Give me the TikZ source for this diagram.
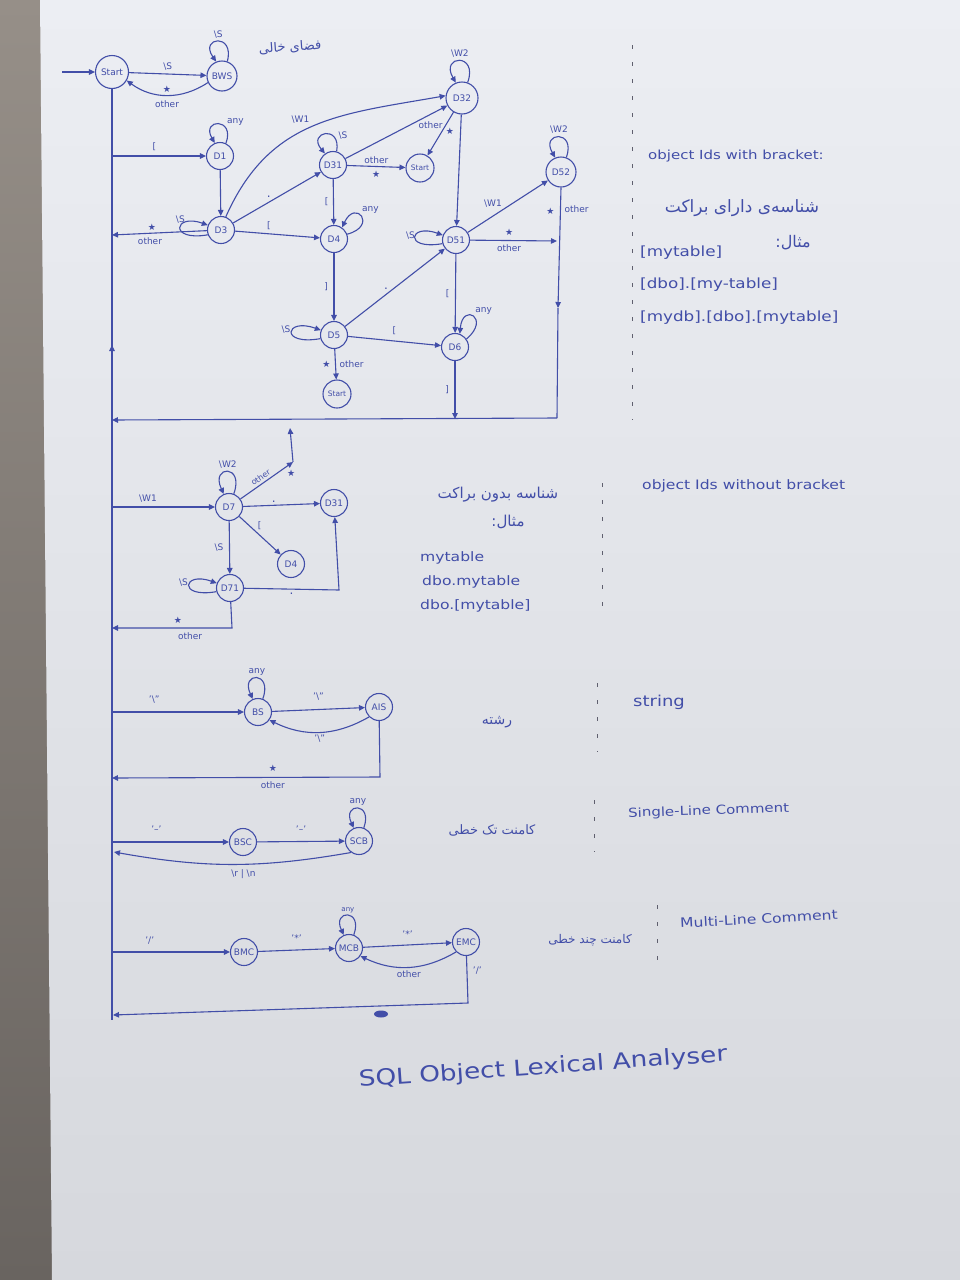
\documentclass[tikz,border=0pt]{standalone}
\usepackage{fontspec}
\setmainfont{DejaVu Sans}
\newfontfamily\fa[Script=Arabic]{DejaVu Sans}
\newfontfamily\hand[FakeStretch=1.2]{DejaVu Sans}
\TeXXeTstate=1
\usetikzlibrary{arrows.meta}
\definecolor{ink}{RGB}{66,78,168}
\definecolor{paperA}{RGB}{236,238,243}
\definecolor{paperB}{RGB}{214,216,221}
\definecolor{wallA}{RGB}{150,143,136}
\definecolor{wallB}{RGB}{105,100,96}
\definecolor{dashc}{RGB}{95,95,110}
\begin{document}
\begin{tikzpicture}[x=1pt,y=1pt,
 st/.style={circle,draw=ink,line width=1.1pt,minimum size=27pt,inner sep=0pt,text=ink,font=\fontsize{9}{10}\selectfont},
 lb/.style={text=ink,inner sep=1.5pt,font=\fontsize{9}{10}\selectfont},
 ar/.style={draw=ink,line width=1.1pt,-{Triangle[length=6pt,width=5.5pt]}},
 ln/.style={draw=ink,line width=1.1pt},
 hw/.style={text=ink,inner sep=0pt,font=\hand\fontsize{12.5}{14}\selectfont,anchor=west},
 ex/.style={text=ink,inner sep=0pt,font=\hand\fontsize{14}{16}\selectfont,anchor=west},
 fatext/.style={text=ink,inner sep=0pt,font=\fa\fontsize{14}{16}\selectfont},
 dv/.style={draw=dashc,line width=0.9pt,dash pattern=on 4pt off 13pt},
]
\useasboundingbox (0,-1280) rectangle (960,0);
% background
\shade[top color=wallA,bottom color=wallB] (0,-1280) rectangle (960,0);
\shade[top color=paperA,bottom color=paperB] (40,0) -- (960,0) -- (960,-1280) -- (52,-1280) -- cycle;

% ---------- states ----------
\node[st,minimum size=33pt] (start) at (112,-72) {Start};
\node[st,minimum size=30pt] (bws) at (222,-76) {BWS};
\node[st] (d1) at (220,-156) {D1};
\node[st] (d3) at (221,-230) {D3};
\node[st] (d31) at (333,-165) {D31};
\node[st,minimum size=32pt] (d32) at (462,-98) {D32};
\node[st,minimum size=28pt,font=\fontsize{7.5}{8}\selectfont] (s2) at (420,-168) {Start};
\node[st] (d4) at (334,-239) {D4};
\node[st] (d51) at (456,-240) {D51};
\node[st,minimum size=30pt] (d52) at (561,-172) {D52};
\node[st] (d5) at (334,-335) {D5};
\node[st] (d6) at (455,-347) {D6};
\node[st,minimum size=28pt,font=\fontsize{7.5}{8}\selectfont] (s3) at (337,-394) {Start};
\node[st] (d7) at (229,-507) {D7};
\node[st] (d31b) at (334,-503) {D31};
\node[st] (d4b) at (291,-564) {D4};
\node[st] (d71) at (230,-588) {D71};
\node[st] (bs) at (258,-712) {BS};
\node[st] (ais) at (379,-707) {AIS};
\node[st] (bsc) at (243,-842) {BSC};
\node[st] (scb) at (359,-841) {SCB};
\node[st] (bmc) at (244,-952) {BMC};
\node[st] (mcb) at (349,-948) {MCB};
\node[st] (emc) at (466,-942) {EMC};

% ---------- helper coordinates ----------
\coordinate (in) at (62,-72);
\coordinate (lend) at (112,-1020);
\coordinate (c3) at (112,-235);
\coordinate (c51) at (557,-241);
\coordinate (m52) at (558,-308);
\coordinate (c52) at (557,-418);
\coordinate (c6) at (455,-419);
\coordinate (cL) at (112,-420);
\coordinate (u0) at (112,-365);
\coordinate (u1) at (112,-345);
\coordinate (o7) at (293,-462);
\coordinate (o7u) at (290,-428);
\coordinate (c71) at (339,-590);
\coordinate (c71b) at (232,-628);
\coordinate (c71c) at (112,-628);
\coordinate (a1) at (380,-777);
\coordinate (a2) at (112,-778);
\coordinate (r1) at (114,-852);
\coordinate (e1) at (468,-1003);
\coordinate (e2) at (113,-1015);

% ---------- main spine ----------
\draw[ar] (in) -- (start);
\draw[ln] (start.south) -- (lend);
\draw[ar] (u0) -- (u1);

% ---------- whitespace ----------
\draw[ar] (start) -- node[lb,above=2pt]{\textbackslash S} (bws);
\draw[ar] (bws.205) to[bend left=35] node[lb,above=1pt]{★} node[lb,below=3pt]{other} (start.-30);
\draw[ar] (bws.70) .. controls +(75:30) and +(125:30) .. node[lb,above=1pt]{\textbackslash S} (bws.112);

% ---------- object ids with bracket ----------
\draw[ar] (start |- d1) -- node[lb,above=3pt,pos=0.45]{[} (d1);
\draw[ar] (d1.65) .. controls +(70:28) and +(120:28) .. node[lb,above right,pos=0.3]{any} (d1.112);
\draw[ar] (d1) -- (d3);
\draw[ar] (d3.200) .. controls +(190:40) and +(160:36) .. node[lb,above=3pt,pos=0.5]{\textbackslash S} (d3.160);
\draw[ar] (d3) -- node[lb,above=1pt,pos=0.58]{★} node[lb,below=2pt,pos=0.6]{other} (c3);
\draw[ar] (d3) -- node[lb,above=2pt,pos=0.4]{[} (d4);
\draw[ar] (d3) -- node[lb,above left,pos=0.45,font=\fontsize{12}{12}\selectfont]{.} (d31);
\draw[ar] (d3.70) to[out=66,in=190,looseness=1.1] node[lb,above left=1pt,pos=0.5]{\textbackslash W1} (d32.172);
\draw[ar] (d31.75) .. controls +(80:28) and +(130:28) .. node[lb,above right,pos=0.15]{\textbackslash S} (d31.125);
\draw[ar] (d31) -- (d32);
\draw[ar] (d31) -- node[lb,above=1pt]{other} node[lb,below=2pt]{★} (s2);
\draw[ar] (d31) -- node[lb,left=3pt]{[} (d4);
\draw[ar] (d4.20) .. controls +(15:32) and +(65:32) .. node[lb,above right,pos=0.55]{any} (d4.55);
\draw[ar] (d4) -- node[lb,left=4pt]{]} (d5);
\draw[ar] (d5.195) .. controls +(190:42) and +(160:38) .. node[lb,above left,pos=0.4]{\textbackslash S} (d5.160);
\draw[ar] (d5) -- node[lb,above left,pos=0.45,font=\fontsize{12}{12}\selectfont]{.} (d51);
\draw[ar] (d5) -- node[lb,above=4pt]{[} (d6);
\draw[ar] (d5) -- node[lb,left=3pt]{★} node[lb,right=2pt]{other} (s3);
\draw[ar] (d32.70) .. controls +(70:32) and +(120:32) .. node[lb,above=2pt]{\textbackslash W2} (d32.112);
\draw[ar] (d32) -- node[lb,left=1pt,pos=0.3]{other} node[lb,right=2pt,pos=0.45]{★} (s2);
\draw[ar] (d32) -- (d51);
\draw[ar] (d51.195) .. controls +(190:40) and +(160:36) .. node[lb,above left,pos=0.35]{\textbackslash S} (d51.160);
\draw[ar] (d51) -- node[lb,above left,pos=0.45]{\textbackslash W1} (d52);
\draw[ar] (d51) -- node[lb,above=3pt,pos=0.45]{★} node[lb,below=2pt,pos=0.45]{other} (c51);
\draw[ar] (d52.70) .. controls +(70:30) and +(120:30) .. node[lb,above=2pt]{\textbackslash W2} (d52.112);
\draw[ar] (d52.south) -- node[lb,left=4pt,pos=0.2]{★} node[lb,right=2pt,pos=0.18]{other} (m52);
\draw[ln] (m52) -- (c52);
\draw[ar] (c52) -- (cL);
\draw[ar] (d51) -- node[lb,left=4pt]{[} (d6);
\draw[ar] (d6.35) .. controls +(40:32) and +(85:32) .. node[lb,above right,pos=0.5]{any} (d6.70);
\draw[ar] (d6) -- node[lb,left=4pt]{]} (c6);

% ---------- object ids without bracket ----------
\draw[ar] (start |- d7) -- node[lb,above=3pt,pos=0.35]{\textbackslash W1} (d7);
\draw[ar] (d7.70) .. controls +(70:32) and +(115:32) .. node[lb,above=1pt]{\textbackslash W2} (d7.112);
\draw[ar] (d7) -- node[lb,above=2pt,sloped,pos=0.45,font=\fontsize{8}{9}\selectfont,inner sep=0.5pt]{other} node[lb,below right=0pt,pos=0.85]{★} (o7);
\draw[ar] (o7) -- (o7u);
\draw[ar] (d7) -- node[lb,above=1pt,pos=0.4,font=\fontsize{12}{12}\selectfont]{.} (d31b);
\draw[ar] (d7) -- node[lb,above right,pos=0.4]{[} (d4b);
\draw[ar] (d7) -- node[lb,left=4pt]{\textbackslash S} (d71);
\draw[ar] (d71.195) .. controls +(190:40) and +(160:36) .. node[lb,above left,pos=0.4]{\textbackslash S} (d71.160);
\draw[ar] (d71) -- node[lb,below=2pt,pos=0.5,font=\fontsize{12}{12}\selectfont]{.} (c71) -- (d31b);
\draw[ar] (d71) -- (c71b) -- node[lb,above=2pt,pos=0.45]{★} node[lb,below=3pt,pos=0.35]{other} (c71c);

% ---------- string ----------
\draw[ar] (start |- bs) -- node[lb,above=7pt,pos=0.32]{'\textbackslash''} (bs);
\draw[ar] (bs.70) .. controls +(70:30) and +(115:30) .. node[lb,above=1pt]{any} (bs.112);
\draw[ar] (bs) -- node[lb,above=7pt]{'\textbackslash''} (ais);
\draw[ar] (ais.225) to[bend left=28] node[lb,below=1pt]{'\textbackslash''} (bs.-35);
\draw[ar] (ais) -- (a1) -- node[lb,above=4pt,pos=0.4]{★} node[lb,below=2pt,pos=0.4]{other} (a2);

% ---------- single-line comment ----------
\draw[ar] (start |- bsc) -- node[lb,above=7pt,pos=0.38]{'--'} (bsc);
\draw[ar] (bsc) -- node[lb,above=7pt]{'--'} (scb);
\draw[ar] (scb.70) .. controls +(70:28) and +(115:28) .. node[lb,above=1pt]{any} (scb.112);
\draw[ar] (scb.235) to[bend left=10] node[lb,below=3pt,pos=0.45]{\textbackslash r | \textbackslash n} (r1);

% ---------- multi-line comment ----------
\draw[ar] (start |- bmc) -- node[lb,above=6pt,pos=0.32]{'/'} (bmc);
\draw[ar] (bmc) -- node[lb,above=6pt]{'*'} (mcb);
\draw[ar] (mcb.70) .. controls +(70:28) and +(115:28) .. node[lb,above=1pt,font=\fontsize{7}{8}\selectfont]{any} (mcb.112);
\draw[ar] (mcb) -- node[lb,above=5pt]{'*'} (emc);
\draw[ar] (emc.225) to[bend left=28] node[lb,below=1pt]{other} (mcb.-35);
\draw[ar] (emc) -- node[lb,right=4pt,pos=0.3]{'/'} (e1) -- (e2);
\fill[ink] (381,-1014) ellipse (7pt and 3.5pt);

% ---------- dividers ----------
\draw[dv] (632,-45) -- (632,-420);
\draw[dv] (602,-483) -- (602,-612);
\draw[dv] (597,-683) -- (597,-752);
\draw[dv] (594,-800) -- (594,-852);
\draw[dv] (657,-905) -- (657,-968);

% ---------- texts ----------
\node[fatext,rotate=4,font=\fa\fontsize{13}{15}\selectfont] (t0) at (290,-47) {\beginR فضای خالی\endR};

\node[hw] (t1) at (648,-156) {object Ids with bracket:};
\node[fatext,font=\fa\fontsize{17}{19}\selectfont] (t2) at (742,-208) {\beginR شناسه‌ی دارای براکت\endR};
\node[fatext,font=\fa\fontsize{16}{18}\selectfont] (t3) at (793,-243) {\hbox{:}\hbox{مثال}};
\node[ex] (t4) at (640,-253) {[mytable]};
\node[ex] (t5) at (640,-285) {[dbo].[my-table]};
\node[ex] (t6) at (640,-318) {[mydb].[dbo].[mytable]};

\node[hw,font=\hand\fontsize{13}{15}\selectfont] (t7) at (642,-486) {object Ids without bracket};
\node[fatext,font=\fa\fontsize{15}{17}\selectfont] (t8) at (498,-495) {\beginR شناسه بدون براکت\endR};
\node[fatext,font=\fa\fontsize{15}{17}\selectfont] (t9) at (508,-522) {\hbox{:}\hbox{مثال}};
\node[ex,font=\hand\fontsize{13}{15}\selectfont] (t10) at (420,-558) {mytable};
\node[ex,font=\hand\fontsize{13}{15}\selectfont] (t11) at (422,-582) {dbo.mytable};
\node[ex,font=\hand\fontsize{13}{15}\selectfont] (t12) at (420,-606) {dbo.[mytable]};

\node[hw,font=\hand\fontsize{15}{17}\selectfont] (t13) at (633,-702) {string};
\node[fatext] (t14) at (497,-722) {\beginR رشته\endR};

\node[hw,rotate=2] (t15) at (628,-814) {Single-Line Comment};
\node[fatext,font=\fa\fontsize{13}{15}\selectfont] (t16) at (492,-830) {\beginR کامنت تک خطی\endR};

\node[hw,rotate=3,font=\hand\fontsize{13}{15}\selectfont] (t17) at (680,-923) {Multi-Line Comment};
\node[fatext,font=\fa\fontsize{12}{14}\selectfont] (t18) at (590,-940) {\beginR کامنت چند خطی\endR};

\node[text=ink,font=\hand\fontsize{22}{26}\selectfont,rotate=4] (title) at (543,-1068) {SQL Object Lexical Analyser};
\end{tikzpicture}
\end{document}
